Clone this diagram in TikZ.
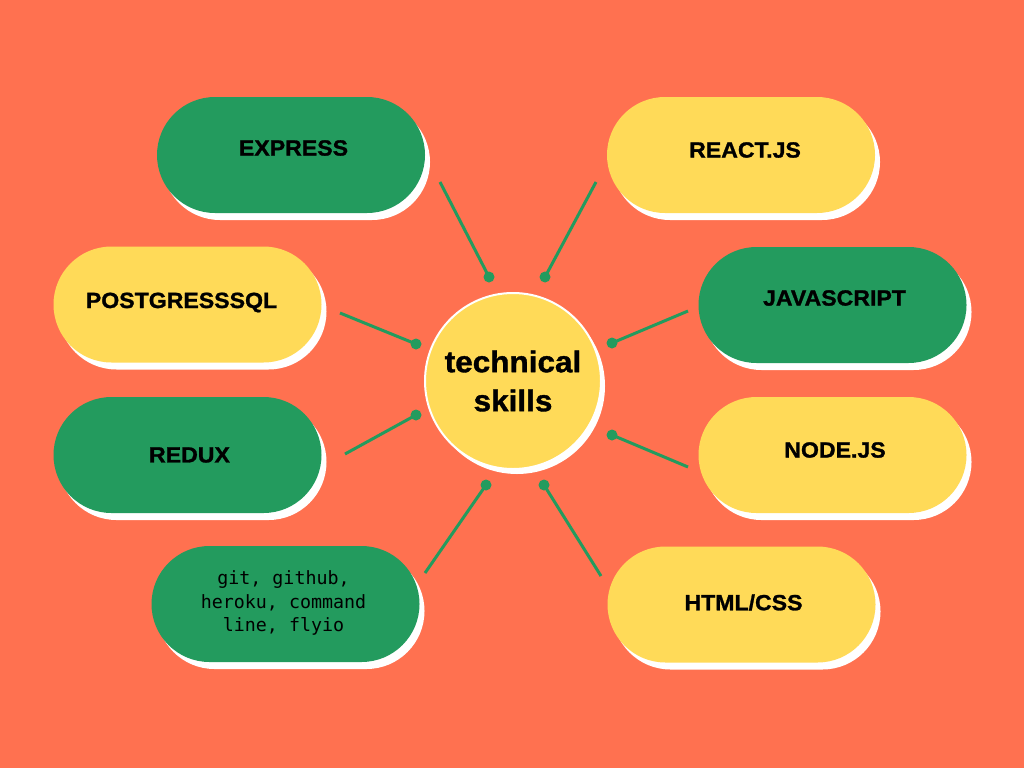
\documentclass[tikz,border=0pt]{standalone}
\usepackage{fontspec}
\setmainfont{Liberation Sans}
\setmonofont{DejaVu Sans Mono}
\newfontfamily\heavyfont{Liberation Sans}[FakeBold=1.2, FakeStretch=1.05]
\usetikzlibrary{shapes.misc,shadows}
\definecolor{bgorange}{HTML}{FF7150}
\definecolor{skillgreen}{HTML}{239B5E}
\definecolor{skillyellow}{HTML}{FFDA58}
\begin{document}
\begin{tikzpicture}[
  x=1pt, y=-1pt,
  pill/.style={rounded rectangle, minimum width=268pt, minimum height=116pt, inner sep=0pt,
    drop shadow={shadow xshift=5pt, shadow yshift=-7pt, fill=white, opacity=1}},
  greenpill/.style={pill, fill=skillgreen},
  yellowpill/.style={pill, fill=skillyellow},
  pilltext/.style={font=\heavyfont\bfseries\fontsize{22}{26}\selectfont, inner sep=0pt, align=center},
  hub/.style={circle, fill=skillyellow, draw=white, line width=2pt, minimum size=176pt, inner sep=0pt,
    drop shadow={shadow xshift=4pt, shadow yshift=-5pt, fill=white, opacity=1},
    font=\heavyfont\bfseries\fontsize{30}{39}\selectfont, align=center},
  dot/.style={circle, fill=skillgreen, minimum size=11pt, inner sep=0pt},
  link/.style={draw=skillgreen, line width=3pt}
]
\fill[bgorange] (0,0) rectangle (1024,768);
\useasboundingbox (0,0) rectangle (1024,768);

\node[hub] (skills) at (513,381) {technical\\skills};

\node[greenpill, left of=skills, node distance=222pt, yshift=226pt,
  label={[pilltext, xshift=2.5pt, yshift=7pt]center:EXPRESS}] (express) {};
\node[yellowpill, right of=skills, node distance=228pt, yshift=226pt,
  label={[pilltext, xshift=4pt, yshift=5pt]center:REACT.JS}] (react) {};
\node[yellowpill, left of=skills, node distance=325.5pt, yshift=76.5pt,
  label={[pilltext, xshift=-6pt, yshift=2pt]center:POSTGRESSSQL}] (postgres) {};
\node[greenpill, right of=skills, node distance=319.5pt, yshift=76pt,
  label={[pilltext, xshift=2pt, yshift=7pt]center:JAVASCRIPT}] (javascript) {};
\node[greenpill, left of=skills, node distance=325.5pt, yshift=-74pt,
  label={[pilltext, xshift=2pt]center:REDUX}] (redux) {};
\node[yellowpill, right of=skills, node distance=319.5pt, yshift=-74pt,
  label={[pilltext, xshift=2.5pt, yshift=5pt]center:NODE.JS}] (nodejs) {};
\node[greenpill, left of=skills, node distance=227.5pt, yshift=-223pt,
  label={[pilltext, xshift=-2pt, yshift=1pt, font=\ttfamily\fontsize{18.3}{23.5}\selectfont]center:git, github,\\heroku, command\\line, flyio}] (tools) {};
\node[yellowpill, right of=skills, node distance=228.5pt, yshift=-223.5pt,
  label={[pilltext, xshift=2pt, yshift=2pt]center:HTML/CSS}] (htmlcss) {};

% dots next to the hub
\node[dot] (dexpress) at (489,277) {};
\node[dot] (dreact) at (545,277) {};
\node[dot] (dpostgres) at (416,344) {};
\node[dot] (djavascript) at (612,343) {};
\node[dot] (dredux) at (416,415) {};
\node[dot] (dnodejs) at (612,435) {};
\node[dot] (dtools) at (486,485) {};
\node[dot] (dhtmlcss) at (544,485) {};

% free ends near the pills
\coordinate (eexpress) at (440,182);
\coordinate (ereact) at (596,182);
\coordinate (epostgres) at (340,313);
\coordinate (ejavascript) at (688,311);
\coordinate (eredux) at (345,454);
\coordinate (enodejs) at (688,467);
\coordinate (etools) at (425,573);
\coordinate (ehtmlcss) at (601,576);

\draw[link] (dexpress.center) -- (eexpress);
\draw[link] (dreact.center) -- (ereact);
\draw[link] (dpostgres.center) -- (epostgres);
\draw[link] (djavascript.center) -- (ejavascript);
\draw[link] (dredux.center) -- (eredux);
\draw[link] (dnodejs.center) -- (enodejs);
\draw[link] (dtools.center) -- (etools);
\draw[link] (dhtmlcss.center) -- (ehtmlcss);
\end{tikzpicture}
\end{document}
